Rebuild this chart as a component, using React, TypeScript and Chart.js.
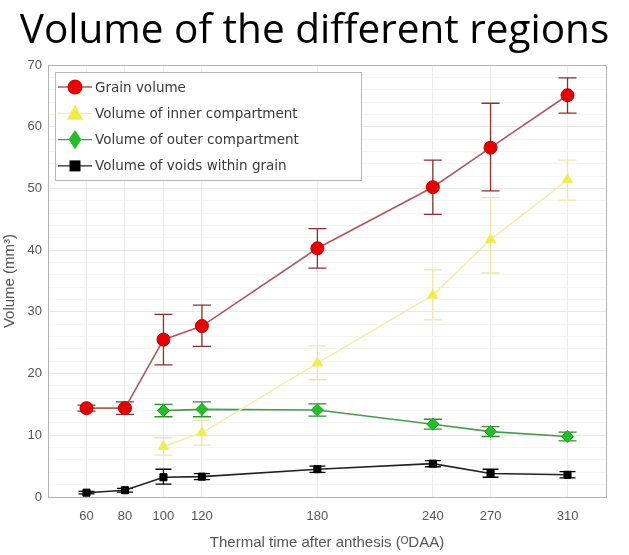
import React, { useEffect, useRef } from "react";
import { Chart, registerables } from "chart.js";

Chart.register(...registerables);

const TITLE = "Volume of the different regions";
const X_TITLE = "Thermal time after anthesis (ᴼDAA)";
const Y_TITLE = "Volume (mm³)";
const X_TICKS = [60, 80, 100, 120, 180, 240, 270, 310];

const grainX = [60, 80, 100, 120, 180, 240, 270, 310];
const grainY = [14.4, 14.4, 25.5, 27.7, 40.3, 50.2, 56.6, 65.1];
const grainLo = [13.9, 13.4, 21.4, 24.4, 37.1, 45.8, 49.6, 62.2];
const grainHi = [14.9, 15.4, 29.6, 31.1, 43.5, 54.6, 63.8, 67.9];

const innerX = [100, 120, 180, 240, 270, 310];
const innerY = [8.2, 10.4, 21.7, 32.7, 41.7, 51.4];
const innerLo = [6.8, 8.4, 19.0, 28.7, 36.3, 48.1];
const innerHi = [9.6, 12.4, 24.5, 36.8, 48.5, 54.6];

const outerX = [100, 120, 180, 240, 270, 310];
const outerY = [14.0, 14.2, 14.1, 11.8, 10.6, 9.8];
const outerLo = [13.0, 13.0, 13.1, 11.0, 9.8, 9.1];
const outerHi = [15.0, 15.4, 15.1, 12.6, 11.4, 10.5];

const voidX = [60, 80, 100, 120, 180, 240, 270, 310];
const voidY = [0.7, 1.1, 3.2, 3.3, 4.5, 5.4, 3.8, 3.6];
const voidLo = [0.5, 0.8, 2.1, 2.8, 4.0, 4.9, 3.2, 3.1];
const voidHi = [0.9, 1.4, 4.5, 3.8, 5.0, 5.9, 4.5, 4.1];

const LEGEND_LABELS = [
  "Grain volume",
  "Volume of inner compartment",
  "Volume of outer compartment",
  "Volume of voids within grain",
];

const pts = (xs: number[], ys: number[]) => xs.map((x, i) => ({ x, y: ys[i] }));

const errorBarPlugin = {
  id: "errorBars",
  beforeDatasetsDraw(chart: any) {
    const ctx = chart.ctx;
    const xs = chart.scales.x;
    const ys = chart.scales.y;
    chart.data.datasets.forEach((ds: any) => {
      if (!ds.errLo) return;
      ctx.save();
      ctx.strokeStyle = ds.errColor;
      ctx.lineWidth = 1.3;
      ds.data.forEach((p: any, i: number) => {
        const px = xs.getPixelForValue(p.x);
        const y1 = ys.getPixelForValue(ds.errLo[i]);
        const y2 = ys.getPixelForValue(ds.errHi[i]);
        const cap = ds.capW;
        ctx.beginPath();
        ctx.moveTo(px, y1);
        ctx.lineTo(px, y2);
        ctx.moveTo(px - cap, y1);
        ctx.lineTo(px + cap, y1);
        ctx.moveTo(px - cap, y2);
        ctx.lineTo(px + cap, y2);
        ctx.stroke();
      });
      ctx.restore();
    });
  },
};

const frameAndLegendPlugin = {
  id: "frameLegend",
  afterDraw(chart: any) {
    const ctx = chart.ctx;
    const a = chart.chartArea;
    ctx.save();
    ctx.strokeStyle = "#b4b4b4";
    ctx.lineWidth = 1;
    ctx.strokeRect(a.left + 0.5, a.top + 0.5, a.right - a.left, a.bottom - a.top);
    // legend box
    const lx = a.left + 7;
    const ly = a.top + 7;
    const lw = 306;
    const lh = 108;
    ctx.fillStyle = "#ffffff";
    ctx.fillRect(lx, ly, lw, lh);
    ctx.strokeStyle = "#b8b8b8";
    ctx.strokeRect(lx + 0.5, ly + 0.5, lw, lh);
    ctx.font = "13.5px 'DejaVu Sans', sans-serif";
    ctx.textBaseline = "middle";
    ctx.textAlign = "left";
    chart.data.datasets.forEach((ds: any, i: number) => {
      const cy = ly + 15 + i * 26.3;
      const cx = lx + 20;
      ctx.strokeStyle = ds.legendLine;
      ctx.lineWidth = 1.3;
      ctx.beginPath();
      ctx.moveTo(lx + 3, cy);
      ctx.lineTo(lx + 37, cy);
      ctx.stroke();
      ctx.fillStyle = ds.pointBackgroundColor;
      ctx.beginPath();
      const r = ds.legendR;
      if (ds.pointStyle === "circle") {
        ctx.arc(cx, cy, r, 0, Math.PI * 2);
      } else if (ds.pointStyle === "triangle") {
        ctx.moveTo(cx, cy - r * 1.1);
        ctx.lineTo(cx + r, cy + r * 0.8);
        ctx.lineTo(cx - r, cy + r * 0.8);
        ctx.closePath();
      } else if (ds.pointStyle === "rectRot") {
        ctx.moveTo(cx, cy - r * 1.2);
        ctx.lineTo(cx + r * 0.8, cy);
        ctx.lineTo(cx, cy + r * 1.2);
        ctx.lineTo(cx - r * 0.8, cy);
        ctx.closePath();
      } else {
        ctx.rect(cx - r, cy - r, 2 * r, 2 * r);
      }
      ctx.fill();
      ctx.fillStyle = "#3a3a3a";
      ctx.fillText(LEGEND_LABELS[i], lx + 40, cy + 1);
    });
    ctx.restore();
  },
};

export default function App() {
  const ref = useRef<HTMLCanvasElement | null>(null);
  useEffect(() => {
    document.body.style.margin = "0";
    const canvas = ref.current!;
    const tickFont = { family: "'Liberation Sans', Arial, sans-serif", size: 13 };
    const chart = new Chart(canvas, {
      type: "line",
      data: {
        datasets: [
          {
            label: LEGEND_LABELS[0],
            data: pts(grainX, grainY),
            borderColor: "#b05a5a",
            borderWidth: 1.6,
            pointStyle: "circle",
            pointRadius: 6.5,
            pointBackgroundColor: "#e60000",
            pointBorderColor: "#c00000",
            pointBorderWidth: 1,
            errLo: grainLo,
            errHi: grainHi,
            errColor: "#8c2e2e",
            capW: 9,
            legendLine: "#b05a5a",
            legendR: 7.5,
          } as any,
          {
            label: LEGEND_LABELS[1],
            data: pts(innerX, innerY),
            borderColor: "#f3eea8",
            borderWidth: 1.6,
            pointStyle: "triangle",
            pointRadius: 6,
            pointBackgroundColor: "#eeee44",
            pointBorderColor: "#eeee66",
            pointBorderWidth: 1,
            errLo: innerLo,
            errHi: innerHi,
            errColor: "#eee6a8",
            capW: 9,
            legendLine: "#f3eea8",
            legendR: 8,
          } as any,
          {
            label: LEGEND_LABELS[2],
            data: pts(outerX, outerY),
            borderColor: "#4a9a4a",
            borderWidth: 1.6,
            pointStyle: "rectRot",
            pointRadius: 6,
            pointBackgroundColor: "#22c022",
            pointBorderColor: "#22a022",
            pointBorderWidth: 1,
            errLo: outerLo,
            errHi: outerHi,
            errColor: "#2f8f2f",
            capW: 9,
            legendLine: "#4a9a4a",
            legendR: 8,
          } as any,
          {
            label: LEGEND_LABELS[3],
            data: pts(voidX, voidY),
            borderColor: "#222222",
            borderWidth: 1.6,
            pointStyle: "rect",
            pointRadius: 5,
            pointBackgroundColor: "#000000",
            pointBorderColor: "#000000",
            pointBorderWidth: 1,
            errLo: voidLo,
            errHi: voidHi,
            errColor: "#000000",
            capW: 8,
            legendLine: "#222222",
            legendR: 5.5,
          } as any,
        ],
      },
      options: {
        animation: false,
        responsive: false,
        maintainAspectRatio: false,
        layout: { padding: 0 },
        plugins: {
          legend: { display: false },
          tooltip: { enabled: false },
          title: {
            display: true,
            text: TITLE,
            color: "#000000",
            font: { family: "'Open Sans', sans-serif", size: 40.5, weight: "normal", lineHeight: 1 },
            padding: { top: 11, bottom: 13.5 },
          },
        },
        scales: {
          x: {
            type: "linear",
            min: 40,
            max: 330,
            afterBuildTicks: (s: any) => {
              s.ticks = X_TICKS.map((v) => ({ value: v }));
            },
            afterFit: (s: any) => {
              s.height = 58;
            },
            grid: { color: "#ececec", drawTicks: false },
            border: { display: false },
            ticks: { color: "#555555", font: tickFont, padding: 12, autoSkip: false, maxRotation: 0 },
            title: {
              display: true,
              text: X_TITLE,
              color: "#555555",
              font: { family: "'Liberation Sans', Arial, sans-serif", size: 15 },
              padding: { top: 0, bottom: 3 },
            },
          },
          y: {
            type: "linear",
            min: 0,
            max: 70,
            afterFit: (s: any) => {
              s.width = 48;
            },
            ticks: {
              stepSize: 2,
              color: "#555555",
              font: tickFont,
              padding: 6,
              autoSkip: false,
              callback: (v: any) => (Number(v) % 10 === 0 ? String(v) : ""),
            },
            grid: {
              drawTicks: false,
              color: (c: any) => (c.tick && c.tick.value % 10 === 0 ? "#e8e8e8" : "#f5f5f5"),
            },
            border: { display: false },
            title: {
              display: true,
              text: Y_TITLE,
              color: "#555555",
              font: { family: "'Liberation Sans', Arial, sans-serif", size: 15 },
              padding: { top: 1, bottom: 0 },
            },
          },
          yRight: {
            type: "linear",
            position: "right",
            min: 0,
            max: 70,
            afterFit: (s: any) => {
              s.width = 23;
            },
            ticks: { display: false },
            grid: { display: false, drawTicks: false },
            border: { display: false },
          },
        },
      },
      plugins: [errorBarPlugin, frameAndLegendPlugin],
    });
    return () => chart.destroy();
  }, []);
  return (
    <div style={{ width: 629, height: 555 }}>
      <canvas ref={ref} width={629} height={555} style={{ display: "block" }} />
    </div>
  );
}
